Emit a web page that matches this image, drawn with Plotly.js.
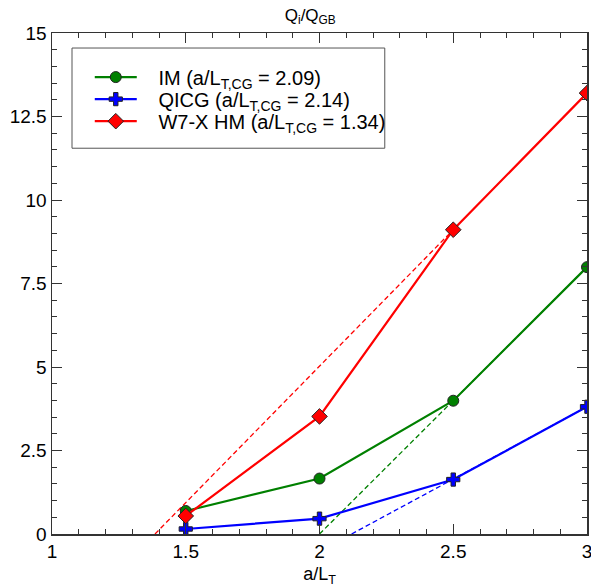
<!DOCTYPE html>
<html>
<head>
<meta charset="utf-8">
<script src="https://cdn.plot.ly/plotly-3.0.1.min.js"></script>
<style>html,body{margin:0;padding:0;background:#fff;}#chart{width:591px;height:587px;}</style>
</head>
<body>
<div id="chart"></div>
<script>
// Data
const xVals = [1.5, 2, 2.5, 3];
const imVals = [0.69, 1.66, 3.99, 7.99];
const qicgVals = [0.15, 0.46, 1.63, 3.81];
const w7xVals = [0.54, 3.52, 9.11, 13.2];

// Dashed linear extrapolation lines (x-intercept to end point)
const imFitX = [2.0, 3];
const imFitY = [0, 7.99];
const qicgFitX = [2.12, 3];
const qicgFitY = [0, 3.81];
const w7xFitX = [1.385, 2.5];
const w7xFitY = [0, 9.11];

const names = [
  '\u00a0\u00a0\u00a0IM (a/L<sub>T,CG</sub> = 2.09)',
  '\u00a0\u00a0\u00a0QICG (a/L<sub>T,CG</sub> = 2.14)',
  '\u00a0\u00a0\u00a0W7-X HM (a/L<sub>T,CG</sub> = 1.34)'
];
const xTickVals = [1, 1.5, 2, 2.5, 3];
const xTickText = ['1', '1.5', '2', '2.5', '3'];
const yTickVals = [0, 2.5, 5, 7.5, 10, 12.5, 15];
const yTickText = ['0', '2.5', '5', '7.5', '10', '12.5', '15'];

const green = '#008000', blue = '#0000ff', red = '#ff0000';
const outline = {color: '#222', width: 1};

const traces = [
  {x: imFitX, y: imFitY, mode: 'lines', line: {color: green, width: 1.3, dash: '5px,3px'}, showlegend: false, hoverinfo: 'skip'},
  {x: qicgFitX, y: qicgFitY, mode: 'lines', line: {color: blue, width: 1.3, dash: '5px,3px'}, showlegend: false, hoverinfo: 'skip'},
  {x: w7xFitX, y: w7xFitY, mode: 'lines', line: {color: red, width: 1.3, dash: '5px,3px'}, showlegend: false, hoverinfo: 'skip'},
  {x: xVals, y: imVals, name: names[0], legend: 'legend', mode: 'lines+markers', line: {color: green, width: 2.2},
   marker: {symbol: 'circle', size: 11, color: green, line: outline}},
  {x: xVals, y: qicgVals, name: names[1], legend: 'legend2', mode: 'lines+markers', line: {color: blue, width: 2.2},
   marker: {symbol: 'cross', size: 11, color: blue, line: outline}},
  {x: xVals, y: w7xVals, name: names[2], legend: 'legend3', mode: 'lines+markers', line: {color: red, width: 2.2},
   marker: {symbol: 'diamond', size: 12, color: red, line: outline}}
];

const font = 'Liberation Sans, Arial, sans-serif';
const legendBase = (yc) => ({
  x: 0.0706, y: yc, xanchor: 'left', yanchor: 'middle',
  bgcolor: 'rgba(0,0,0,0)', borderwidth: 0,
  font: {size: 20}, itemwidth: 42, tracegroupgap: 0
});
const layout = {
  width: 591, height: 587,
  margin: {l: 52, r: 4, t: 33, b: 53},
  paper_bgcolor: '#fff', plot_bgcolor: '#fff',
  font: {family: font, color: '#000', size: 18},
  title: {text: 'Q<sub>i</sub>/Q<sub>GB</sub>', x: 0.525, xanchor: 'center', y: 0.985, yanchor: 'top', font: {size: 17}},
  xaxis: {
    range: [1, 3], tickvals: xTickVals, ticktext: xTickText,
    ticks: 'inside', ticklen: 10, tickwidth: 1, tickcolor: '#333',
    minor: {dtick: 0.1, ticks: 'inside', ticklen: 5, tickcolor: '#333', showgrid: false},
    showline: true, linecolor: '#333', linewidth: 1.5, mirror: 'allticks',
    showgrid: false, zeroline: false, ticklabeloverflow: 'allow',
    tickfont: {size: 19},
    title: {text: 'a/L<sub>T</sub>', font: {size: 18}, standoff: 6}
  },
  yaxis: {
    range: [0, 15], tickvals: yTickVals, ticktext: yTickText,
    ticks: 'inside', ticklen: 10, tickwidth: 1, tickcolor: '#333',
    minor: {dtick: 0.5, ticks: 'inside', ticklen: 5, tickcolor: '#333', showgrid: false},
    showline: true, linecolor: '#333', linewidth: 1.5, mirror: 'allticks',
    showgrid: false, zeroline: false, ticklabeloverflow: 'allow',
    tickfont: {size: 19}, ticklabelstandoff: 0
  },
  shapes: [{
    type: 'rect', xref: 'paper', yref: 'paper',
    x0: 0.0374, x1: 0.622, y0: 0.770, y1: 0.970,
    line: {color: '#555', width: 1}, fillcolor: 'rgba(0,0,0,0)', layer: 'above'
  }],
  legend: legendBase(0.912),
  legend2: legendBase(0.868),
  legend3: legendBase(0.824),
  showlegend: true
};

Plotly.newPlot('chart', traces, layout, {staticPlot: true, displayModeBar: false});
</script>
</body>
</html>
